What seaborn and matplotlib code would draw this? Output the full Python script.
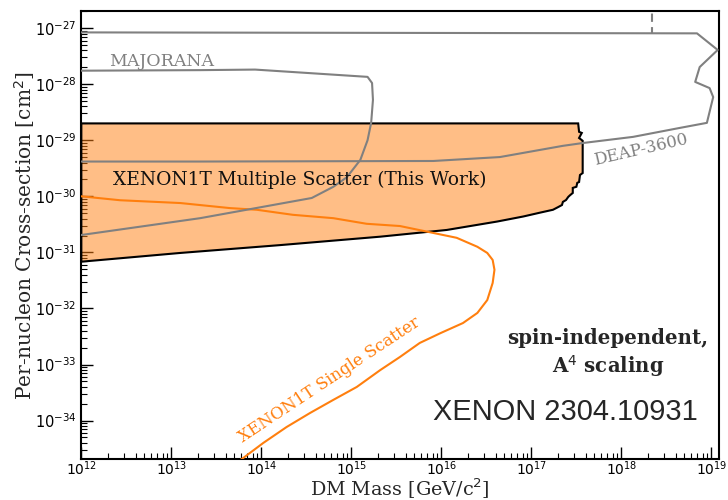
import numpy as np
import pandas as pd
import matplotlib
matplotlib.use("Agg")
import matplotlib.pyplot as plt
from matplotlib.ticker import LogLocator, FuncFormatter, NullFormatter, FixedLocator
import seaborn as sns

# ---------------- data (log10 of mass [GeV/c^2] and cross-section [cm^2]) -------------
# XENON1T multiple-scatter excluded region (closed outline)
ms_log_mass = [12.0, 13.10, 14.21, 15.32, 16.06, 16.62, 16.91, 17.10, 17.24, 17.30, 17.34,
               17.35, 17.385, 17.41, 17.43, 17.46, 17.46, 17.50, 17.51, 17.53, 17.54, 17.57,
               17.57, 17.53, 17.56, 17.53, 17.52, 12.0]
ms_log_xs = [-31.166, -31.01, -30.87, -30.72, -30.60, -30.45, -30.36, -30.29, -30.24, -30.19,
             -30.155, -30.10, -30.066, -30.01, -29.98, -29.94, -29.85, -29.83, -29.76, -29.745,
             -29.62, -29.585, -29.01, -28.96, -28.87, -28.85, -28.70, -28.70]

# XENON1T single-scatter limit
ss_log_mass = [12.0, 12.43, 13.10, 13.65, 13.95, 14.35, 14.80, 15.17, 15.54, 15.87, 16.17,
               16.40, 16.51, 16.57, 16.59, 16.57, 16.51, 16.40, 16.24, 15.99, 15.76, 15.54,
               15.32, 15.06, 14.80, 14.54, 14.28, 14.02, 13.80, 13.67]
ss_log_xs = [-30.0, -30.07, -30.12, -30.21, -30.24, -30.33, -30.39, -30.49, -30.53, -30.64,
             -30.74, -30.90, -31.01, -31.135, -31.31, -31.545, -31.85, -32.08, -32.26, -32.44,
             -32.615, -32.865, -33.10, -33.40, -33.63, -33.865, -34.115, -34.40, -34.665, -34.81]

# DEAP-3600 contour
deap_log_mass = [12.0, 18.84, 19.07, 18.87, 18.82, 18.98, 19.02, 18.95, 18.65, 18.13, 17.57,
                 17.35, 16.65, 15.91, 13.32, 12.0]
deap_log_xs = [-27.077, -27.094, -27.39, -27.695, -27.96, -28.07, -28.23, -28.69, -28.78,
               -28.94, -29.05, -29.10, -29.30, -29.37, -29.38, -29.38]

# MAJORANA contour
maj_log_mass = [12.0, 13.32, 13.93, 15.18, 15.23, 15.24, 15.22, 15.18, 15.10, 14.95, 14.80,
                14.56, 13.32, 12.0]
maj_log_xs = [-27.76, -27.75, -27.74, -27.87, -27.98, -28.28, -28.69, -29.0, -29.35, -29.66,
              -29.83, -30.03, -30.39, -30.69]

# dashed vertical marker
dash_log_mass = [18.34, 18.34]
dash_log_xs = [-26.5, -27.08]

x_major = [12, 13, 14, 15, 16, 17, 18, 19]
y_major = [-34, -33, -32, -31, -30, -29, -28, -27]

# ---------------- style -------------
sns.set_style("ticks")
plt.rcParams["font.family"] = ["DejaVu Serif"]
plt.rcParams["mathtext.fontset"] = "dejavusans"

fig, ax = plt.subplots(figsize=(7.28, 5.0), dpi=100)
fig.subplots_adjust(left=0.1117, right=0.9877, bottom=0.0814, top=0.9786)

orange = "#ff7f0e"
gray = "#808080"

def tenpow(v):
    return [10.0 ** a for a in v]

ax.set_xscale("log")
ax.set_yscale("log")

# filled MS region
ax.fill(tenpow(ms_log_mass), tenpow(ms_log_xs), facecolor=(1.0, 0.498, 0.055, 0.5),
        edgecolor="black", linewidth=1.5, zorder=2)

def line(xl, yl, **kw):
    df = pd.DataFrame({"m": tenpow(xl), "s": tenpow(yl)})
    sns.lineplot(data=df, x="m", y="s", sort=False, estimator=None, ax=ax, **kw)

line(ss_log_mass, ss_log_xs, color=orange, linewidth=1.5, zorder=3)
line(deap_log_mass, deap_log_xs, color=gray, linewidth=1.5, zorder=3)
line(maj_log_mass, maj_log_xs, color=gray, linewidth=1.5, zorder=3)
line(dash_log_mass, dash_log_xs, color=gray, linewidth=1.5, linestyle=(0, (4, 2.5)), zorder=3)

ax.set_xlim(1e12, 10 ** 19.085)
ax.set_ylim(10 ** -34.69, 10 ** -26.69)

ax.xaxis.set_major_locator(FixedLocator(tenpow(x_major)))
ax.yaxis.set_major_locator(FixedLocator(tenpow(y_major)))
ax.xaxis.set_minor_locator(LogLocator(base=10, subs=np.arange(2, 10), numticks=100))
ax.yaxis.set_minor_locator(LogLocator(base=10, subs=np.arange(2, 10), numticks=100))
fmt = FuncFormatter(lambda v, p: r"$10^{%d}$" % int(round(np.log10(v))))
ax.xaxis.set_major_formatter(fmt)
ax.yaxis.set_major_formatter(fmt)
ax.xaxis.set_minor_formatter(NullFormatter())
ax.yaxis.set_minor_formatter(NullFormatter())

ax.tick_params(which="both", direction="in", top=False, right=False, colors="black")
ax.tick_params(which="major", length=8.5, width=1.0, labelsize=10.5)
ax.tick_params(axis="x", which="major", pad=0, labelsize=10)
ax.tick_params(which="minor", length=4, width=0.8)
for s in ax.spines.values():
    s.set_color("black")
    s.set_linewidth(1.5)

ax.set_xlabel(r"DM Mass [GeV/c$^2$]", fontsize=13.8)
ax.xaxis.set_label_coords(0.5, -0.0395)
ax.set_ylabel(r"Per-nucleon Cross-section [cm$^2$]", fontsize=14.5, labelpad=-2)

# ---------------- annotations -------------
ax.text(10 ** 12.35, 10 ** -29.71, "XENON1T Multiple Scatter (This Work)", fontsize=13.4,
        ha="left", va="center", color="#111111", zorder=5)
ax.text(10 ** 14.76, 10 ** -33.27, "XENON1T Single Scatter", fontsize=12, color=orange,
        rotation=33.5, rotation_mode="anchor", ha="center", va="center", zorder=5)
ax.text(10 ** 12.31, 10 ** -27.60, "MAJORANA", fontsize=12.5, color=gray,
        ha="left", va="center", zorder=5)
ax.text(10 ** 18.22, 10 ** -29.17, "DEAP-3600", fontsize=12, color=gray, rotation=13,
        rotation_mode="anchor", ha="center", va="center", zorder=5)
ax.text(10 ** 17.85, 10 ** -32.80, "spin-independent,\nA$^4$ scaling", fontsize=14.2,
        fontweight="bold", ha="center", va="center", multialignment="center",
        linespacing=1.25, zorder=5)
ax.text(10 ** 15.91, 10 ** -33.84, "XENON 2304.10931", fontsize=20.9,
        family=["Liberation Sans"], ha="left", va="center", zorder=5)

fig.savefig("out.png", dpi=100)
